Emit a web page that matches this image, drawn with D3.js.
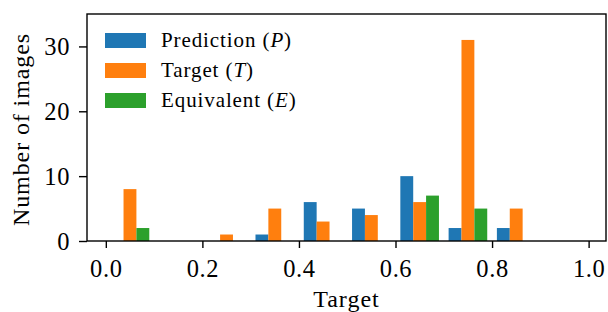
<!DOCTYPE html>
<html>
<head>
<meta charset="utf-8">
<script src="https://cdn.jsdelivr.net/npm/d3@7"></script>
<style>
  html, body { margin: 0; padding: 0; background: #fff; }
  svg { display: block; }
  text { font-family: "Liberation Serif", serif; fill: #000; }
</style>
</head>
<body>
<svg id="chart" width="608" height="312"></svg>
<script>
// ---- data ----
const binStarts = [0.0, 0.1, 0.2, 0.3, 0.4, 0.5, 0.6, 0.7, 0.8, 0.9];
const binWidth = 0.1;
const predictionCounts = [0, 0, 0, 1, 6, 5, 10, 2, 2, 0];
const targetCounts     = [8, 0, 1, 5, 3, 4, 6, 31, 5, 0];
const equivalentCounts = [2, 0, 0, 0, 0, 0, 7, 5, 0, 0];
const seriesNames = ["Prediction", "Target", "Equivalent"];
const seriesSymbols = ["P", "T", "E"];
const seriesColors = ["#1f77b4", "#ff7f0e", "#2ca02c"];
const xTicks = [0.0, 0.2, 0.4, 0.6, 0.8, 1.0];
const yTicks = [0, 10, 20, 30];
const xLabel = "Target";
const yLabel = "Number of images";

const series = [predictionCounts, targetCounts, equivalentCounts];
const FONT = '"Liberation Serif", serif';

// ---- layout ----
const W = 608, H = 312;
const margin = {left: 87, top: 14, right: 2, bottom: 71};
const pw = W - margin.left - margin.right;
const ph = H - margin.top - margin.bottom;

const svg = d3.select("#chart");
const g = svg.append("g").attr("transform", `translate(${margin.left},${margin.top})`);

const x = d3.scaleLinear().domain([-0.039, 1.036]).range([0, pw]);
const y = d3.scaleLinear().domain([0, 35]).range([ph, 0]);

const rw = 0.8;
const barW = binWidth * rw / series.length;
series.forEach((vals, si) => {
  g.append("g").selectAll("rect")
    .data(vals.map((v, i) => ({v, start: binStarts[i]})))
    .join("rect")
    .attr("x", d => x(d.start + binWidth * (1 - rw) / 2 + si * barW))
    .attr("width", d => x(barW) - x(0))
    .attr("y", d => y(d.v))
    .attr("height", d => y(0) - y(d.v))
    .attr("fill", seriesColors[si]);
});

const xAxis = g.append("g").attr("transform", `translate(0,${ph})`)
  .call(d3.axisBottom(x).tickValues(xTicks).tickFormat(d3.format(".1f")).tickSize(7).tickPadding(12));
const yAxis = g.append("g")
  .call(d3.axisLeft(y).tickValues(yTicks).tickFormat(d3.format("d")).tickSize(8).tickPadding(9));
[xAxis, yAxis].forEach(a => {
  a.select(".domain").remove();
  a.selectAll(".tick line").attr("stroke", "#000").attr("stroke-width", 1.4);
  a.selectAll(".tick text").style("font-family", FONT).style("font-size", "24.5px")
    .style("letter-spacing", "0.6px").attr("fill", "#000");
});
yAxis.selectAll(".tick text").attr("dy", "0.34em");

g.append("rect").attr("x", 0).attr("y", 0).attr("width", pw).attr("height", ph)
  .attr("fill", "none").attr("stroke", "#000").attr("stroke-width", 1.4);

svg.append("text").attr("x", margin.left + pw / 2).attr("y", 306.5)
  .attr("text-anchor", "middle").style("font-family", FONT).style("font-size", "24px")
  .style("letter-spacing", "1px").text(xLabel);
svg.append("text").attr("transform", `translate(29,${margin.top + ph / 2 + 2}) rotate(-90)`)
  .attr("text-anchor", "middle").style("font-family", FONT).style("font-size", "24px")
  .style("letter-spacing", "0.9px").text(yLabel);

const leg = svg.append("g");
seriesNames.forEach((name, i) => {
  const yy = 33 + i * 30;
  leg.append("rect").attr("x", 105).attr("y", yy).attr("width", 41).attr("height", 15)
    .attr("fill", seriesColors[i]);
  const t = leg.append("text").attr("x", 161).attr("y", yy + 14).style("font-family", FONT)
    .style("font-size", "21px").style("letter-spacing", "0.9px");
  t.append("tspan").text(name + " (");
  t.append("tspan").style("font-style", "italic").text(seriesSymbols[i]);
  t.append("tspan").text(")");
});
</script>
</body>
</html>
